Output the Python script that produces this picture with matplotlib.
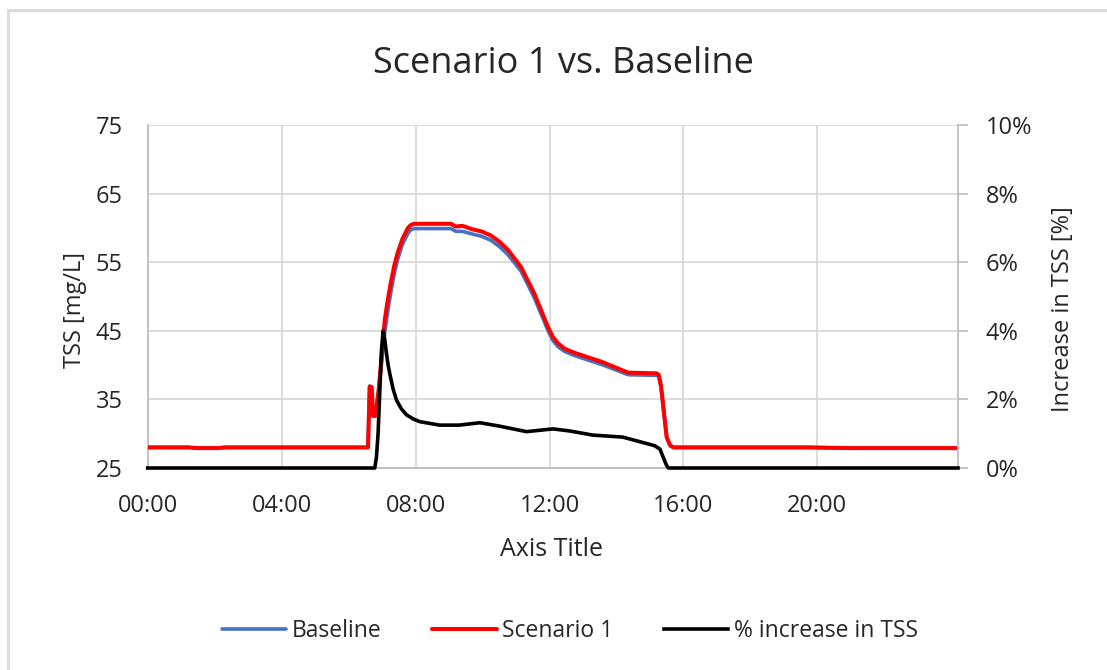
import matplotlib
matplotlib.use("Agg")
import matplotlib.pyplot as plt
from matplotlib.patches import Rectangle

# ---- data (hours of day) ----
tss_time = [0.0, 1.2, 1.5, 2.1, 2.3, 6.58, 6.63, 6.69, 6.73, 6.80, 6.90, 7.0, 7.08, 7.18, 7.26,
            7.36, 7.46, 7.6, 7.76, 7.85, 7.95, 9.06, 9.2, 9.4, 9.7, 9.96, 10.25, 10.5, 10.76,
            11.15, 11.54, 11.95, 12.1, 12.25, 12.45, 12.74, 13.55, 14.35, 15.2, 15.26, 15.33,
            15.42, 15.5, 15.6, 15.7, 19.7, 21.0, 24.2]
scenario1 = [28.0, 28.0, 27.9, 27.9, 28.0, 28.0, 36.9, 36.8, 32.6, 32.6, 36.5, 42.0, 46.6, 49.8,
             52.0, 54.4, 56.3, 58.3, 59.9, 60.4, 60.6, 60.6, 60.2, 60.3, 59.8, 59.5, 58.9, 58.0,
             56.8, 54.3, 50.5, 45.6, 44.1, 43.2, 42.4, 41.8, 40.5, 38.9, 38.8, 38.6, 37.0,
             33.0, 29.5, 28.3, 28.0, 28.0, 27.9, 27.9]
baseline = [28.0, 28.0, 27.9, 27.9, 28.0, 28.0, 36.9, 36.8, 32.6, 32.6, 36.4, 41.0, 44.8, 48.2,
            50.6, 53.2, 55.3, 57.5, 59.1, 59.7, 59.9, 59.9, 59.5, 59.5, 59.1, 58.8, 58.2, 57.3,
            56.1, 53.7, 49.9, 45.1, 43.6, 42.7, 42.0, 41.4, 40.1, 38.6, 38.5, 38.4, 36.8,
            32.9, 29.5, 28.3, 28.0, 28.0, 27.9, 27.9]

pct_time = [0.0, 6.78, 6.83, 6.88, 6.98, 7.03, 7.08, 7.13, 7.18, 7.23, 7.33, 7.43, 7.58, 7.73,
            7.93, 8.13, 8.72, 9.3, 9.92, 10.51, 11.31, 12.1, 12.6, 13.29, 14.19, 15.14, 15.3,
            15.4, 15.49, 15.55, 24.2]
pct_increase = [0.0, 0.0, 0.3, 1.0, 3.4, 4.0, 3.75, 3.35, 3.0, 2.75, 2.3, 1.98, 1.72, 1.55,
                1.43, 1.35, 1.25, 1.25, 1.32, 1.22, 1.06, 1.14, 1.08, 0.96, 0.90, 0.65, 0.55,
                0.3, 0.09, 0.0, 0.0]

x_ticks = [0, 4, 8, 12, 16, 20]
x_ticklabels = ["00:00", "04:00", "08:00", "12:00", "16:00", "20:00"]
y_ticks = [25, 35, 45, 55, 65, 75]
y2_ticks = [0, 2, 4, 6, 8, 10]
y2_ticklabels = ["0%", "2%", "4%", "6%", "8%", "10%"]

FONT = "Open Sans"
TXT = "#262626"
GRID = "#D9D9D9"
AXC = "#BFBFBF"

plt.rcParams['font.family'] = [FONT, 'DejaVu Sans']

W, H = 1107, 670
fig = plt.figure(figsize=(W / 100, H / 100), dpi=100)
fig.patches.append(Rectangle((8 / W, -0.1), 1.2, 1 - 10 / H + 0.1,
                             transform=fig.transFigure, fill=False,
                             edgecolor="#D9D9D9", linewidth=2))

ax = fig.add_axes([147.7 / W, 1 - 468 / H, (958 - 147.7) / W, (468 - 125) / H])
ax2 = ax.twinx()

ax.set_xlim(0, 24.2)
ax.set_ylim(25, 75)
ax2.set_ylim(0, 10)

ax.set_yticks(y_ticks)
ax2.set_yticks(y2_ticks)
ax2.set_yticklabels(y2_ticklabels)
ax.set_xticks(x_ticks)
ax.set_xticklabels(x_ticklabels)

ax.grid(True, color=GRID, linewidth=1.3)
ax.set_axisbelow(True)

for a in (ax, ax2):
    a.spines["top"].set_visible(False)
    for s in ("bottom", "left", "right"):
        a.spines[s].set_color(AXC)
        a.spines[s].set_linewidth(1.3)

ax.spines["right"].set_visible(False)
ax2.spines["left"].set_visible(False)

ax.tick_params(axis="y", length=0, labelsize=17, labelcolor=TXT, pad=18)
ax.tick_params(axis="x", length=0, labelsize=17, labelcolor=TXT, pad=19)
ax2.tick_params(axis="y", length=7, width=1.3, color=AXC, labelsize=17, labelcolor=TXT, pad=13)

l1, = ax.plot(tss_time, baseline, color="#4472C4", linewidth=2.6, label="Baseline",
              solid_joinstyle="round", solid_capstyle="round", zorder=3)
l2, = ax.plot(tss_time, scenario1, color="#FF0000", linewidth=2.9, label="Scenario 1",
              solid_joinstyle="round", solid_capstyle="round", zorder=4)
l3, = ax2.plot(pct_time, pct_increase, color="#000000", linewidth=2.6, label="% increase in TSS",
               solid_joinstyle="round", clip_on=False, zorder=5)

fig.text(552 / W, 1 - 549 / H, "Axis Title", ha="center", va="center", fontsize=18, color=TXT)
fig.text(75 / W, 1 - 310 / H, "TSS [mg/L]", ha="center", va="center", rotation=90,
         fontsize=17, color=TXT)
fig.text(1063 / W, 1 - 309 / H, "Increase in TSS [%]", ha="center", va="center", rotation=90,
         fontsize=17, color=TXT)

fig.text(563 / W, 1 - 73 / H, "Scenario 1 vs. Baseline", ha="center", va="baseline",
         fontsize=26, color=TXT)

leg = fig.legend([l1, l2, l3], ["Baseline", "Scenario 1", "% increase in TSS"],
                 loc="center", bbox_to_anchor=(570 / W, 1 - 631 / H), ncol=3,
                 frameon=False, fontsize=16.5, handlelength=2.8, columnspacing=2.2,
                 handletextpad=0.25)
for t in leg.get_texts():
    t.set_color(TXT)

fig.savefig("out.png", dpi=100)
